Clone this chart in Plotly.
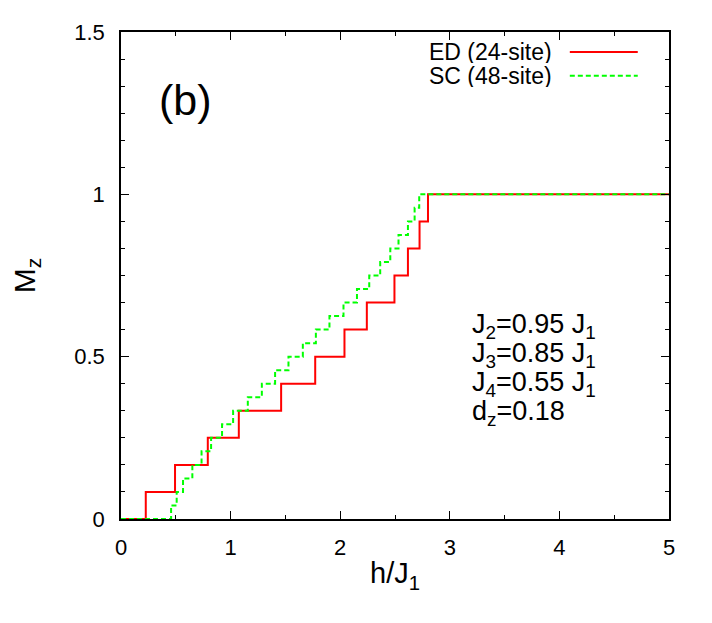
"""
Curva de magnetización M_z vs h/J1: ED (24 sitios) y SC (48 sitios).
"""
import plotly.graph_objects as go

# ── DATOS ────────────────────────────────────────────────────
# ED 24-site: campo donde ocurre cada escalón y M_z tras el escalón
h_ed = [0, 0.226, 0.493, 0.792, 1.075, 1.461, 1.772, 2.039, 2.243,
        2.495, 2.618, 2.724, 2.801, 5.0]
m_ed = [0, 0.0833, 0.1667, 0.25, 0.3333, 0.4167, 0.5, 0.5833, 0.6667,
        0.75, 0.8333, 0.9167, 1.0, 1.0]

# SC 48-site
h_sc = [0, 0.457, 0.508, 0.566, 0.651, 0.735, 0.822, 0.922, 1.023,
        1.157, 1.285, 1.406, 1.528, 1.659, 1.778, 1.902, 2.030, 2.153,
        2.265, 2.365, 2.457, 2.532, 2.618, 2.679, 2.721, 5.0]
m_sc = [0, 0.0417, 0.0833, 0.125, 0.1667, 0.2083, 0.25, 0.2917, 0.3333,
        0.375, 0.4167, 0.4583, 0.5, 0.5417, 0.5833, 0.625, 0.6667, 0.7083,
        0.75, 0.7917, 0.8333, 0.875, 0.9167, 0.9583, 1.0, 1.0]

x_ticks = [0, 1, 2, 3, 4, 5]
y_ticks = [0, 0.5, 1, 1.5]
y_tick_text = ["0", "0.5", "1", "1.5"]

params = ["J<sub>2</sub>=0.95 J<sub>1</sub>",
          "J<sub>3</sub>=0.85 J<sub>1</sub>",
          "J<sub>4</sub>=0.55 J<sub>1</sub>",
          "d<sub>z</sub>=0.18"]

ROJO  = "#ff0000"
VERDE = "#00ff00"
FUENTE = "Liberation Sans, Arial, sans-serif"

fig = go.Figure()
fig.add_trace(go.Scatter(
    x=h_ed, y=m_ed, mode="lines", line_shape="hv",
    line=dict(color=ROJO, width=2), name="ED (24-site)",
))
fig.add_trace(go.Scatter(
    x=h_sc, y=m_sc, mode="lines", line_shape="hv",
    line=dict(color=VERDE, width=2, dash="5px,3px"), name="SC (48-site)",
))

# ── Leyenda estilo gnuplot (texto a la izquierda, línea a la derecha) ──
for txt, yp, col, dash in [("ED (24-site)", 0.959, ROJO, "solid"),
                           ("SC (48-site)", 0.910, VERDE, "5px,3px")]:
    fig.add_annotation(x=0.788, y=yp, xref="paper", yref="paper",
                       text=txt, showarrow=False, xanchor="right",
                       yanchor="middle", height=23, borderpad=0,
                       font=dict(size=23, color="black"))
    fig.add_shape(type="line", xref="paper", yref="paper",
                  x0=0.819, x1=0.943, y0=yp, y1=yp,
                  line=dict(color=col, width=2, dash=dash))

fig.add_annotation(x=0.585, y=1.29, text="(b)", showarrow=False,
                   font=dict(size=43, color="black"))

for i, txt in enumerate(params):
    fig.add_annotation(x=0.637, y=0.397 - i * 0.0595, xref="paper",
                       yref="paper", text=txt, showarrow=False,
                       xanchor="left", yanchor="middle",
                       font=dict(size=27, color="black"))

eje = dict(showgrid=False, zeroline=False, showline=True,
           linecolor="black", linewidth=1.5, mirror="allticks",
           ticks="inside", ticklen=8, tickwidth=1.2, tickcolor="black",
           tickfont=dict(size=22, color="black"))

# el navegador deja 8px de margen en el body: se descuenta aquí
fig.update_layout(
    width=712, height=623,
    margin=dict(l=113, r=51, t=22, b=112),
    plot_bgcolor="white", paper_bgcolor="white",
    font=dict(family=FUENTE, color="black"),
    showlegend=False,
    xaxis=dict(**eje, range=[0, 5], tickvals=x_ticks,
               ticklabelstandoff=8,
               minor=dict(dtick=0.5, tick0=0, ticks="inside", ticklen=4,
                          tickcolor="black", tickwidth=1.2),
               title=dict(text="h/J<sub>1</sub>", font=dict(size=29),
                          standoff=4)),
    yaxis=dict(**eje, range=[0, 1.5], tickvals=y_ticks,
               ticktext=y_tick_text, ticklabelstandoff=10,
               minor=dict(dtick=0.5 / 6, tick0=0, ticks="inside", ticklen=4,
                          tickcolor="black", tickwidth=1.2),
               title=dict(text="M<sub>z</sub>", font=dict(size=30),
                          standoff=30)),
)

fig.write_html("out.html")
